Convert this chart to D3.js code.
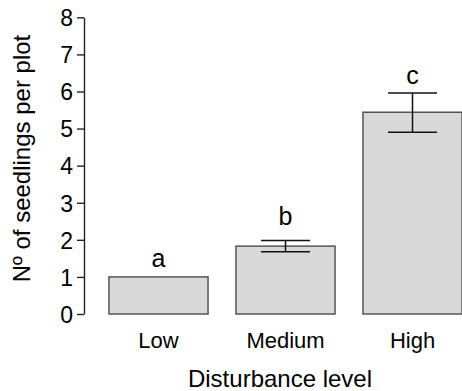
<!DOCTYPE html>
<html>
<head>
<meta charset="utf-8">
<script src="https://cdn.jsdelivr.net/npm/d3@7"></script>
<style>
  body { margin: 0; background: #fff; }
  text { font-family: "Liberation Sans", Arial, sans-serif; fill: #000; }
</style>
</head>
<body>
<div id="canvas"></div>
<script>
"use strict";

/* data */
const levels = ["Low", "Medium", "High"];
const means = [1.0, 1.83, 5.44];
const errLow = [1.0, 1.68, 4.90];
const errHigh = [1.0, 1.98, 5.96];
const letters = ["a", "b", "c"];
const letterAt = [1.27, 2.41, 6.2]; // baseline of letter, in seedlings
const yTicks = [0, 1, 2, 3, 4, 5, 6, 7, 8];

const svgWidth = 462;
const svgHeight = 391;

const svg = d3.select("#canvas")
  .append("svg")
  .attr("width", svgWidth)
  .attr("height", svgHeight);

// scales
const xScale = d3.scaleBand()
  .domain(levels)
  .range([95, 476])
  .paddingInner(0.22)
  .paddingOuter(0.11);

const yScale = d3.scaleLinear()
  .domain([0, 8])
  .range([314, 17.3]);

// bars
svg.selectAll("rect.bar")
  .data(levels)
  .enter()
  .append("rect")
  .attr("class", "bar")
  .attr("x", d => xScale(d))
  .attr("y", (d, i) => yScale(means[i]))
  .attr("width", xScale.bandwidth())
  .attr("height", (d, i) => yScale(0) - yScale(means[i]))
  .attr("fill", "#d9d9d9")
  .attr("stroke", "#555")
  .attr("stroke-width", 1.5);

// error bars (skip the ones with no spread)
const capHalf = 24.5;
levels.forEach((d, i) => {
  if (errHigh[i] === errLow[i]) return;
  const cx = xScale(d) + xScale.bandwidth() / 2;
  const g = svg.append("g")
    .attr("stroke", "#111")
    .attr("stroke-width", 1.5);
  g.append("line")
    .attr("x1", cx).attr("x2", cx)
    .attr("y1", yScale(errLow[i])).attr("y2", yScale(errHigh[i]));
  [errLow[i], errHigh[i]].forEach(v => {
    g.append("line")
      .attr("x1", cx - capHalf).attr("x2", cx + capHalf)
      .attr("y1", yScale(v)).attr("y2", yScale(v));
  });
});

// significance letters
svg.selectAll("text.letter")
  .data(levels)
  .enter()
  .append("text")
  .attr("class", "letter")
  .attr("x", d => xScale(d) + xScale.bandwidth() / 2)
  .attr("y", (d, i) => yScale(letterAt[i]))
  .attr("text-anchor", "middle")
  .attr("font-size", "25px")
  .text((d, i) => letters[i]);

// y axis
const yAxis = svg.append("g")
  .attr("transform", "translate(84,0)")
  .call(d3.axisLeft(yScale).tickValues(yTicks).tickSize(7).tickPadding(4).tickSizeOuter(0));
yAxis.selectAll("path, line").attr("stroke", "#222").attr("stroke-width", 1.4);
yAxis.selectAll("text")
  .attr("font-size", "23px")
  .attr("font-family", "Liberation Sans, Arial, sans-serif")
  .attr("dy", "0.36em");

// category labels
svg.selectAll("text.cat")
  .data(levels)
  .enter()
  .append("text")
  .attr("class", "cat")
  .attr("x", d => xScale(d) + xScale.bandwidth() / 2)
  .attr("y", 348)
  .attr("text-anchor", "middle")
  .attr("font-size", "22px")
  .text(d => d);

// axis titles
svg.append("text")
  .attr("x", 280)
  .attr("y", 387)
  .attr("text-anchor", "middle")
  .attr("font-size", "24px")
  .text("Disturbance level");

svg.append("text")
  .attr("transform", "rotate(-90)")
  .attr("x", -158.5)
  .attr("y", 29.5)
  .attr("text-anchor", "middle")
  .attr("font-size", "24px")
  .text("Nº of seedlings per plot");
</script>
</body>
</html>
